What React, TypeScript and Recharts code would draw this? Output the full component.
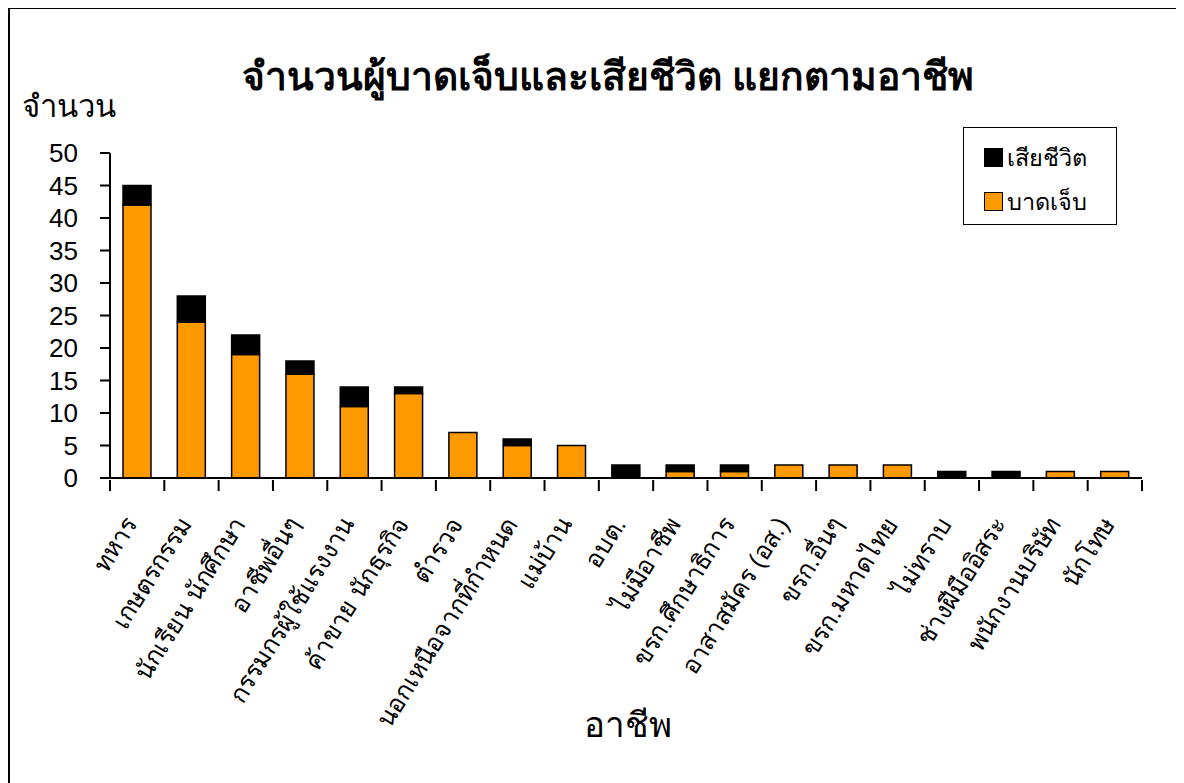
import React from "react";
import { BarChart, Bar, XAxis, YAxis } from "recharts";

const categories = [
  "ทหาร",
  "เกษตรกรรม",
  "นักเรียน นักศึกษา",
  "อาชีพอื่นๆ",
  "กรรมกรผู้ใช้แรงงาน",
  "ค้าขาย นักธุรกิจ",
  "ตำรวจ",
  "นอกเหนือจากที่กำหนด",
  "แม่บ้าน",
  "อบต.",
  "ไม่มีอาชีพ",
  "ขรก.ศึกษาธิการ",
  "อาสาสมัคร (อส.)",
  "ขรก.อื่นๆ",
  "ขรก.มหาดไทย",
  "ไม่ทราบ",
  "ช่างฝีมืออิสระ",
  "พนักงานบริษัท",
  "นักโทษ",
];
const injured = [42, 24, 19, 16, 11, 13, 7, 5, 5, 0, 1, 1, 2, 2, 2, 0, 0, 1, 1];
const dead = [3, 4, 3, 2, 3, 1, 0, 1, 0, 2, 1, 1, 0, 0, 0, 1, 1, 0, 0];
const yTicks = [0, 5, 10, 15, 20, 25, 30, 35, 40, 45, 50];

const data = categories.map((c, i) => ({ name: c, injured: injured[i], dead: dead[i] }));

const FONT = "'Liberation Sans', Arial, sans-serif";

const CHART_W = 1172;
const MARGIN = { top: 144, right: 40, bottom: 0, left: 10 };
const Y_W = 90;
const BAND = (CHART_W - MARGIN.left - MARGIN.right - Y_W) / categories.length;

const XTick = (props: any) => {
  const { x, y, payload, index } = props;
  const ay = y - 10;
  const left = x - BAND / 2;
  const right = x + BAND / 2;
  return (
    <g>
      <line x1={left} x2={left} y1={ay} y2={ay + 11} stroke="#000" strokeWidth={2} />
      {index === categories.length - 1 && (
        <line x1={right} x2={right} y1={ay} y2={ay + 11} stroke="#000" strokeWidth={2} />
      )}
      <text
        transform={`translate(${x + 1},${ay + 44}) rotate(-58)`}
        textAnchor="end"
        fontSize={25}
        fontFamily={FONT}
        fill="#000"
      >
        {payload.value}
      </text>
    </g>
  );
};

const LegendBox = () => (
  <div
    style={{
      position: "absolute",
      left: 953,
      top: 118,
      width: 154,
      height: 98,
      border: "1.5px solid #000",
      boxSizing: "border-box",
      background: "#fff",
      fontFamily: FONT,
      fontSize: 23.5,
      paddingTop: 14,
      paddingLeft: 20,
    }}
  >
    <div style={{ display: "flex", alignItems: "center", height: 30, marginBottom: 14 }}>
      <span style={{ width: 19, height: 19, background: "#000", display: "inline-block", marginRight: 4 }} />
      <span>เสียชีวิต</span>
    </div>
    <div style={{ display: "flex", alignItems: "center", height: 30 }}>
      <span style={{ width: 19, height: 19, background: "#FF9900", border: "1.5px solid #000", boxSizing: "border-box", display: "inline-block", marginRight: 4 }} />
      <span>บาดเจ็บ</span>
    </div>
  </div>
);

export default function App() {
  return (
    <div
      style={{
        position: "relative",
        width: 1180,
        height: 780,
        border: "2.5px solid #000",
        borderRight: "none",
        borderBottom: "none",
        boxSizing: "border-box",
        marginTop: -1,
        background: "#fff",
        fontFamily: FONT,
      }}
    >
      <div
        style={{
          position: "absolute",
          left: 0,
          width: 1196,
          top: 46,
          textAlign: "center",
          fontSize: 39,
          fontWeight: "bold",
          lineHeight: "44px",
        }}
      >
        จำนวนผู้บาดเจ็บและเสียชีวิต แยกตามอาชีพ
      </div>
      <div style={{ position: "absolute", left: 12, top: 80, fontSize: 31, lineHeight: "36px" }}>จำนวน</div>
      <div style={{ position: "absolute", left: 508, width: 220, top: 696, textAlign: "center", fontSize: 35, lineHeight: "40px" }}>
        อาชีพ
      </div>
      <LegendBox />
      <BarChart
        width={CHART_W}
        height={770}
        data={data}
        margin={MARGIN}
        barSize={28}
      >
        <XAxis
          dataKey="name"
          interval={0}
          tick={<XTick />}
          tickLine={false}
          tickSize={10}
          axisLine={{ stroke: "#000", strokeWidth: 2 }}
          height={301}
        />
        <YAxis
          domain={[0, 50]}
          ticks={yTicks}
          interval={0}
          width={Y_W}
          tickSize={10}
          tickMargin={22}
          tick={{ fontSize: 26, fill: "#000", fontFamily: FONT }}
          tickLine={{ stroke: "#000", strokeWidth: 2 }}
          axisLine={{ stroke: "#000", strokeWidth: 2 }}
        />
        <Bar dataKey="injured" name="บาดเจ็บ" stackId="a" fill="#FF9900" stroke="#000" strokeWidth={1.5} isAnimationActive={false} />
        <Bar dataKey="dead" name="เสียชีวิต" stackId="a" fill="#000" stroke="#000" strokeWidth={1.5} isAnimationActive={false} />
      </BarChart>
    </div>
  );
}
